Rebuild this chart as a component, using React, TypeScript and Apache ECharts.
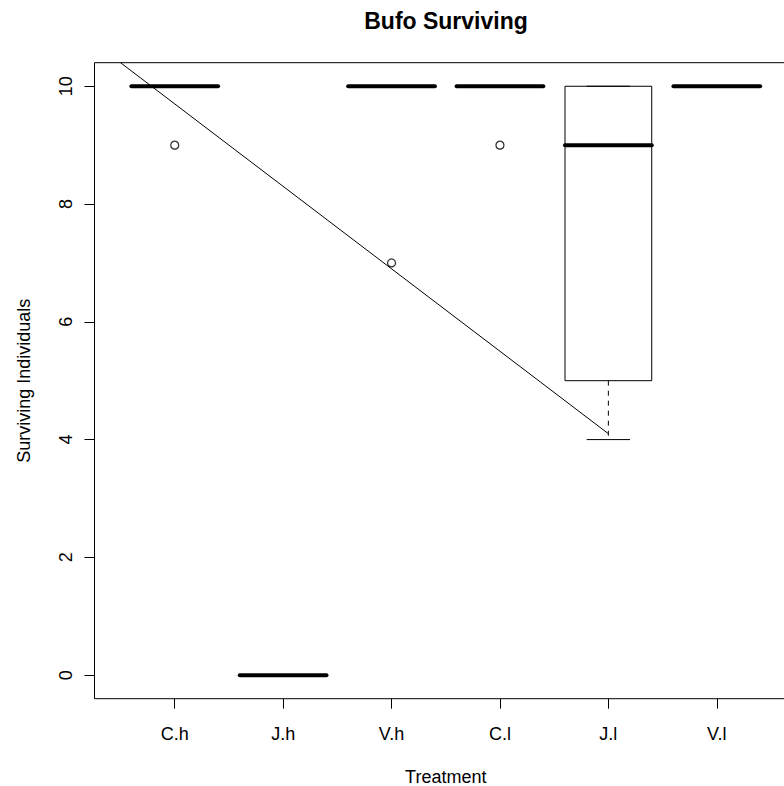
import React, { useEffect, useRef } from "react";
import * as echarts from "echarts";

const categories = ["C.h", "J.h", "V.h", "C.l", "J.l", "V.l"];
const lowerWhisker = [10, 0, 10, 10, 4, 10];
const lowerHinge = [10, 0, 10, 10, 5, 10];
const medians = [10, 0, 10, 10, 9, 10];
const upperHinge = [10, 0, 10, 10, 10, 10];
const upperWhisker = [10, 0, 10, 10, 10, 10];
const outlierGroups = ["C.h", "V.h", "C.l"];
const outlierValues = [9, 7, 9];
const yTicks = [0, 2, 4, 6, 8, 10];
const xTicks = [1, 2, 3, 4, 5, 6];
const trendX = [0.5, 5];
const trendY = [10.4, 4.1];

const FONT = "'Liberation Sans', Arial, Helvetica, sans-serif";

export default function App() {
  const ref = useRef<HTMLDivElement>(null);
  useEffect(() => {
    if (!ref.current) return;
    const chart = echarts.init(ref.current, undefined, { renderer: "svg" });
    const boxData = categories.map((c, i) => [
      i + 1,
      lowerWhisker[i],
      lowerHinge[i],
      medians[i],
      upperHinge[i],
      upperWhisker[i],
    ]);
    const outlierData = outlierGroups.map((g, i) => [
      categories.indexOf(g) + 1,
      outlierValues[i],
    ]);
    const trendData = trendX.map((x, i) => [x, trendY[i]]);

    chart.setOption({
      animation: false,
      backgroundColor: "#fff",
      textStyle: { fontFamily: FONT },
      graphic: [
        {
          type: "text",
          x: 446,
          y: 21,
          style: {
            text: "Bufo Surviving",
            font: `bold 23px ${FONT}`,
            fill: "#000",
            textAlign: "center",
            textVerticalAlign: "middle",
          },
        },
      ],
      grid: {
        left: 94.5,
        top: 62.7,
        width: 702.5,
        height: 636,
        show: true,
        borderColor: "#000",
        borderWidth: 1,
        backgroundColor: "transparent",
        containLabel: false,
        outerBoundsMode: "none",
      },
      xAxis: {
        type: "value",
        min: 0.26,
        max: 6.74,
        axisLine: { show: false, onZero: false },
        splitLine: { show: false },
        axisTick: {
          show: true,
          inside: false,
          customValues: xTicks,
          length: 10,
          lineStyle: { color: "#000", width: 1 },
        },
        axisLabel: {
          customValues: xTicks,
          formatter: (v: number) => categories[Math.round(v) - 1] ?? "",
          margin: 26,
          fontSize: 18,
          color: "#000",
          fontFamily: FONT,
        },
        name: "Treatment",
        nameLocation: "middle",
        nameGap: 69,
        nameTextStyle: { fontSize: 18, color: "#000", fontFamily: FONT },
      },
      yAxis: {
        type: "value",
        min: -0.4,
        max: 10.4,
        axisLine: { show: false, onZero: false },
        splitLine: { show: false },
        axisTick: {
          show: true,
          inside: false,
          customValues: yTicks,
          length: 10,
          lineStyle: { color: "#000", width: 1 },
        },
        axisLabel: {
          customValues: yTicks,
          rotate: 90,
          margin: 20,
          fontSize: 18,
          color: "#000",
          fontFamily: FONT,
        },
        name: "Surviving Individuals",
        nameLocation: "middle",
        nameGap: 62,
        nameTextStyle: { fontSize: 18, color: "#000", fontFamily: FONT },
      },
      series: [
        {
          type: "custom",
          name: "boxes",
          data: boxData,
          encode: { x: 0, y: [1, 2, 3, 4, 5] },
          clip: true,
          renderItem: (params: any, api: any) => {
            const x = api.value(0);
            const lo = api.value(1);
            const q1 = api.value(2);
            const med = api.value(3);
            const q3 = api.value(4);
            const hi = api.value(5);
            const hw = api.size([0.4, 0])[0];
            const cx = api.coord([x, q1])[0];
            const yLo = api.coord([x, lo])[1];
            const yQ1 = api.coord([x, q1])[1];
            const yMed = api.coord([x, med])[1];
            const yQ3 = api.coord([x, q3])[1];
            const yHi = api.coord([x, hi])[1];
            const thin = { stroke: "#000", lineWidth: 1, fill: "none" };
            const children: any[] = [
              {
                type: "rect",
                shape: { x: cx - hw, y: yQ3, width: 2 * hw, height: yQ1 - yQ3 },
                style: { ...thin },
              },
            ];
            if (lo < q1) {
              children.push({
                type: "line",
                shape: { x1: cx, y1: yQ1, x2: cx, y2: yLo },
                style: { ...thin, lineDash: [5, 5] },
              });
            }
            if (hi > q3) {
              children.push({
                type: "line",
                shape: { x1: cx, y1: yQ3, x2: cx, y2: yHi },
                style: { ...thin, lineDash: [5, 5] },
              });
            }
            children.push({
              type: "line",
              shape: { x1: cx - hw / 2, y1: yLo, x2: cx + hw / 2, y2: yLo },
              style: { ...thin },
            });
            children.push({
              type: "line",
              shape: { x1: cx - hw / 2, y1: yHi, x2: cx + hw / 2, y2: yHi },
              style: { ...thin },
            });
            children.push({
              type: "line",
              shape: { x1: cx - hw, y1: yMed, x2: cx + hw, y2: yMed },
              style: { stroke: "#000", lineWidth: 4, lineCap: "round" },
            });
            return { type: "group", children };
          },
        },
        {
          type: "scatter",
          name: "outliers",
          data: outlierData,
          symbol: "circle",
          symbolSize: 8,
          itemStyle: { color: "#fff", borderColor: "#000", borderWidth: 1.3 },
          z: 3,
        },
        {
          type: "line",
          name: "trend",
          data: trendData,
          showSymbol: false,
          symbol: "none",
          clip: true,
          lineStyle: { color: "#000", width: 1 },
          z: 4,
        },
      ],
    });
    return () => chart.dispose();
  }, []);
  return (
    <div
      ref={ref}
      style={{ position: "fixed", left: 0, top: 0, width: 784, height: 786 }}
    />
  );
}
